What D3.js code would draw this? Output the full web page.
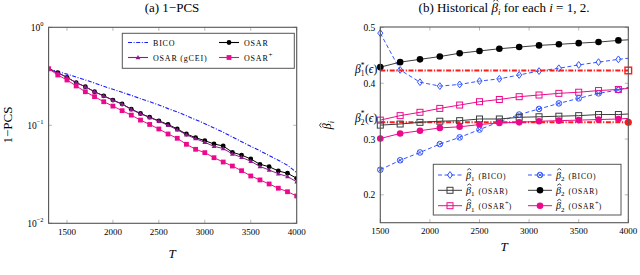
<!DOCTYPE html>
<html>
<head>
<meta charset="utf-8">
<script src="https://cdn.jsdelivr.net/npm/d3@7"></script>
<style>
  body { margin: 0; background: #fff; }
  text { font-family: "Liberation Serif", "DejaVu Serif", serif; }
</style>
</head>
<body>
<svg id="chart" width="640" height="275"></svg>
<script>
// ---- left panel data: 1-PCS (log scale) ----
const tLeft = [1300, 1400, 1500, 1600, 1700, 1800, 1900, 2000, 2100, 2200, 2300, 2400, 2500, 2600,
    2700, 2800, 2900, 3000, 3100, 3200, 3300, 3400, 3500, 3600, 3700, 3800, 3900, 4000];
const pcsBico = [0.375, 0.353, 0.333, 0.31, 0.29, 0.27, 0.25, 0.233, 0.217, 0.202, 0.187, 0.174, 0.161, 0.148,
    0.137, 0.125, 0.114, 0.104, 0.094, 0.085, 0.076, 0.068, 0.061, 0.055, 0.049, 0.044, 0.039, 0.033];
const pcsOsar = [0.375, 0.344, 0.309, 0.272, 0.248, 0.22, 0.2, 0.181, 0.165, 0.146, 0.132, 0.121, 0.111, 0.102,
    0.0917, 0.0815, 0.0748, 0.0697, 0.0645, 0.0615, 0.053, 0.0497, 0.0453, 0.040, 0.0378, 0.0342, 0.0324, 0.0288];
const pcsGcei = [0.375, 0.343, 0.308, 0.272, 0.247, 0.219, 0.199, 0.18, 0.164, 0.145, 0.131, 0.12, 0.11, 0.1,
    0.09, 0.08, 0.073, 0.067, 0.061, 0.058, 0.051, 0.047, 0.043, 0.038, 0.035, 0.032, 0.030, 0.0265];
const pcsOsarPlus = [0.378, 0.326, 0.29, 0.252, 0.22, 0.196, 0.174, 0.157, 0.141, 0.127, 0.113, 0.102, 0.0917, 0.0815,
    0.0737, 0.064, 0.0569, 0.0526, 0.0467, 0.0422, 0.0384, 0.0344, 0.0304, 0.0277, 0.0252, 0.0228, 0.021, 0.019];
const leftXTicks = [1500, 2000, 2500, 3000, 3500, 4000];
const leftYTicks = [1, 0.1, 0.01];
const leftYTickExp = ["0", "\u22121", "\u22122"];

// ---- right panel data: historical beta-hat ----
const tRight = [1500, 1700, 1900, 2100, 2300, 2500, 2700, 2900, 3100, 3300, 3500, 3700, 3900, 4000];
const b1Bico = [0.49, 0.424, 0.402, 0.395, 0.398, 0.404, 0.408, 0.415, 0.422, 0.427, 0.433, 0.438, 0.443, 0.445];
const b2Bico = [0.245, 0.262, 0.276, 0.291, 0.303, 0.317, 0.331, 0.344, 0.354, 0.364, 0.373, 0.382, 0.388, 0.393];
const b1Osar = [0.325, 0.327, 0.33, 0.332, 0.333, 0.336, 0.336, 0.339, 0.34, 0.341, 0.342, 0.344, 0.344, 0.345];
const b2Osar = [0.429, 0.438, 0.443, 0.448, 0.454, 0.458, 0.462, 0.465, 0.468, 0.47, 0.472, 0.474, 0.477, 0.478];
const b1OsarPlus = [0.334, 0.342, 0.348, 0.355, 0.361, 0.367, 0.371, 0.376, 0.379, 0.382, 0.384, 0.387, 0.389, 0.391];
const b2OsarPlus = [0.301, 0.31, 0.315, 0.32, 0.322, 0.326, 0.329, 0.33, 0.332, 0.333, 0.334, 0.335, 0.336, 0.337];
const beta1Star = 0.423;
const beta2Star = 0.33;
const rightXTicks = [1500, 2000, 2500, 3000, 3500, 4000];
const rightYTicks = [0.2, 0.3, 0.4, 0.5];

const BLUE = "#1a1aff";
const BLUE_LIGHT = "#3355ff";
const PURPLE = "#8b1a8b";
const PINK = "#ec0a8c";
const RED = "#ff1a1a";
const GRAY = "#3c3c3c";
const FRAME = "#555";

const svg = d3.select("#chart");

// markers
function drawMarker(g, kind, x, y, color, size) {
    if (kind === "circle") {
        g.append("circle").attr("cx", x).attr("cy", y).attr("r", size).attr("fill", color);
    } else if (kind === "square") {
        g.append("rect").attr("x", x - size).attr("y", y - size)
            .attr("width", size * 2).attr("height", size * 2).attr("fill", color);
    } else if (kind === "squareOpen") {
        g.append("rect").attr("x", x - size).attr("y", y - size)
            .attr("width", size * 2).attr("height", size * 2)
            .attr("fill", "none").attr("stroke", color).attr("stroke-width", 1);
    } else if (kind === "triangle") {
        g.append("path").attr("d", `M${x},${y - size}L${x + size},${y + size * 0.7}L${x - size},${y + size * 0.7}Z`)
            .attr("fill", color);
    } else if (kind === "diamond") {
        g.append("path").attr("d", `M${x},${y - size}L${x + size * 0.75},${y}L${x},${y + size}L${x - size * 0.75},${y}Z`)
            .attr("fill", "none").attr("stroke", color).attr("stroke-width", 1);
    } else if (kind === "otimes") {
        const d = size * 0.7;
        g.append("circle").attr("cx", x).attr("cy", y).attr("r", size)
            .attr("fill", "none").attr("stroke", color).attr("stroke-width", 1);
        g.append("path").attr("d", `M${x - d},${y - d}L${x + d},${y + d}M${x - d},${y + d}L${x + d},${y - d}`)
            .attr("stroke", color).attr("stroke-width", 0.9);
    }
}

// put a small hat over character #idx of a text element
function hatOver(textSel, idx, fs) {
    const node = textSel.node();
    const box = node.getExtentOfChar(idx);
    const parent = d3.select(node.parentNode);
    const tf = textSel.attr("transform");
    const baseline = box.y + box.height * 0.805;
    const cx = box.x + box.width / 2 + fs * 0.08;
    const top = baseline - fs * 0.98;
    const w = fs * 0.2;
    parent.append("path")
        .attr("transform", tf || null)
        .attr("d", `M${cx - w},${top + fs * 0.15}L${cx},${top}L${cx + w},${top + fs * 0.15}`)
        .attr("fill", "none").attr("stroke", "#000").attr("stroke-width", 0.75);
}

function drawSeries(g, xs, ys, x, y, opts) {
    const line = d3.line().x((d, i) => x(xs[i])).y(d => y(d));
    g.append("path").datum(ys)
        .attr("d", line)
        .attr("fill", "none")
        .attr("stroke", opts.color)
        .attr("stroke-width", opts.width || 1)
        .attr("stroke-dasharray", opts.dash || null);
    if (opts.marker) {
        const mg = g.append("g");
        ys.forEach((v, i) => {
            if (opts.skip && opts.skip(i)) return;
            drawMarker(mg, opts.marker, x(xs[i]), y(v), opts.markerColor || opts.color, opts.size);
        });
    }
}

function frame(g, x0, x1, y0, y1) {
    g.append("rect").attr("x", x0).attr("y", y0).attr("width", x1 - x0).attr("height", y1 - y0)
        .attr("fill", "none").attr("stroke", FRAME).attr("stroke-width", 1.1);
}

// =============== LEFT PANEL ===============
const L = { x0: 48.6, x1: 296.7, y0: 27.3, y1: 223.3 };
const xL = d3.scaleLinear().domain([1300, 4000]).range([L.x0, L.x1]);
const yL = d3.scaleLog().domain([0.01, 1]).range([L.y1, L.y0]);

const gl = svg.append("g");
svg.append("clipPath").attr("id", "clipL").append("rect")
    .attr("x", L.x0).attr("y", L.y0).attr("width", L.x1 - L.x0).attr("height", L.y1 - L.y0);

// ticks (inside, bottom and top)
leftXTicks.forEach(t => {
    gl.append("line").attr("x1", xL(t)).attr("x2", xL(t)).attr("y1", L.y1).attr("y2", L.y1 - 3.5)
        .attr("stroke", "#999").attr("stroke-width", 0.7);
    gl.append("line").attr("x1", xL(t)).attr("x2", xL(t)).attr("y1", L.y0).attr("y2", L.y0 + 3.5)
        .attr("stroke", "#999").attr("stroke-width", 0.7);
    gl.append("text").attr("x", xL(t)).attr("y", L.y1 + 11.5).attr("text-anchor", "middle")
        .attr("font-size", 9).text(t);
});
leftYTicks.forEach((t, i) => {
    gl.append("line").attr("x1", L.x0).attr("x2", L.x0 + 3.5).attr("y1", yL(t)).attr("y2", yL(t))
        .attr("stroke", "#999").attr("stroke-width", 0.7);
    gl.append("line").attr("x1", L.x1).attr("x2", L.x1 - 3.5).attr("y1", yL(t)).attr("y2", yL(t))
        .attr("stroke", "#999").attr("stroke-width", 0.7);
    const tx = gl.append("text").attr("x", L.x0 - 5).attr("y", yL(t) + 3.5).attr("text-anchor", "end")
        .attr("font-size", 9.5);
    tx.append("tspan").text("10");
    tx.append("tspan").attr("dy", -4.5).attr("font-size", 6.5).text(leftYTickExp[i]);
});

const plotL = gl.append("g").attr("clip-path", "url(#clipL)");
drawSeries(plotL, tLeft, pcsBico, xL, yL, { color: BLUE, dash: "4,1.6,1,1.6", width: 1.1 });
drawSeries(plotL, tLeft, pcsOsar, xL, yL, { color: "#000", marker: "circle", size: 2.4 });
drawSeries(plotL, tLeft, pcsGcei, xL, yL, { color: PURPLE, marker: "triangle", size: 2.4 });
drawSeries(plotL, tLeft, pcsOsarPlus, xL, yL, { color: PINK, marker: "square", size: 2.4 });
frame(gl, L.x0, L.x1, L.y0, L.y1);

// left legend
const lg = gl.append("g");
lg.append("rect").attr("x", 122.3).attr("y", 33.3).attr("width", 172).attr("height", 35)
    .attr("fill", "#fff").attr("stroke", FRAME).attr("stroke-width", 1);
const leftLegend = [
    { label: "BICO", color: BLUE, dash: "4,1.6,1,1.6", marker: null, col: 0, row: 0 },
    { label: "OSAR", color: "#000", marker: "circle", col: 1, row: 0 },
    { label: "OSAR (gCEI)", color: PURPLE, marker: "triangle", col: 0, row: 1 },
    { label: "OSAR", sup: "+", color: PINK, marker: "square", col: 1, row: 1 }
];
leftLegend.forEach(e => {
    const lx = e.col === 0 ? 128 : 219;
    const ly = e.row === 0 ? 42.5 : 57.5;
    lg.append("line").attr("x1", lx).attr("x2", lx + 20).attr("y1", ly).attr("y2", ly)
        .attr("stroke", e.color).attr("stroke-width", 1.1).attr("stroke-dasharray", e.dash || null);
    if (e.marker) drawMarker(lg, e.marker, lx + 10, ly, e.color, 2.4);
    const tx = lg.append("text").attr("x", lx + 25).attr("y", ly + 3).attr("font-size", 8)
        .attr("letter-spacing", 0.8).text(e.label);
    if (e.sup) tx.append("tspan").attr("dy", -4).attr("font-size", 7).text(e.sup);
});

// left titles
svg.append("text").attr("x", 172).attr("y", 12).attr("text-anchor", "middle").attr("font-size", 13)
    .text("(a) 1\u2212PCS");
svg.append("text").attr("x", 172).attr("y", 258).attr("text-anchor", "middle").attr("font-size", 13)
    .attr("font-style", "italic").text("T");
svg.append("text").attr("transform", "translate(12,125) rotate(-90)").attr("text-anchor", "middle")
    .attr("font-size", 13).text("1\u2212PCS");

// =============== RIGHT PANEL ===============
const R = { x0: 380.3, x1: 628.3, y0: 27, y1: 222.7 };
const xR = d3.scaleLinear().domain([1500, 4000]).range([R.x0, R.x1]);
const yR = d3.scaleLinear().domain([0.15, 0.501]).range([R.y1, R.y0]);

const gr = svg.append("g");
svg.append("clipPath").attr("id", "clipR").append("rect")
    .attr("x", R.x0 - 8).attr("y", R.y0).attr("width", R.x1 - R.x0 + 16).attr("height", R.y1 - R.y0);

rightXTicks.forEach(t => {
    gr.append("line").attr("x1", xR(t)).attr("x2", xR(t)).attr("y1", R.y1).attr("y2", R.y1 - 3.5)
        .attr("stroke", "#999").attr("stroke-width", 0.7);
    gr.append("line").attr("x1", xR(t)).attr("x2", xR(t)).attr("y1", R.y0).attr("y2", R.y0 + 3.5)
        .attr("stroke", "#999").attr("stroke-width", 0.7);
    gr.append("text").attr("x", xR(t)).attr("y", R.y1 + 11.5).attr("text-anchor", "middle")
        .attr("font-size", 9).text(t);
});
rightYTicks.forEach(t => {
    gr.append("line").attr("x1", R.x0).attr("x2", R.x0 + 3.5).attr("y1", yR(t)).attr("y2", yR(t))
        .attr("stroke", "#999").attr("stroke-width", 0.7);
    gr.append("line").attr("x1", R.x1).attr("x2", R.x1 - 3.5).attr("y1", yR(t)).attr("y2", yR(t))
        .attr("stroke", "#999").attr("stroke-width", 0.7);
    gr.append("text").attr("x", R.x0 - 5).attr("y", yR(t) + 3.5).attr("text-anchor", "end")
        .attr("font-size", 9.5).text(d3.format(".1f")(t));
});

const plotR = gr.append("g").attr("clip-path", "url(#clipR)");
const lastR = i => i === tRight.length - 1;
drawSeries(plotR, tRight, b1Bico, xR, yR, { color: BLUE_LIGHT, dash: "4,2.5", marker: "diamond", size: 3.4, skip: lastR });
drawSeries(plotR, tRight, b2Bico, xR, yR, { color: BLUE_LIGHT, dash: "4,2.5", marker: "otimes", size: 2.8, skip: lastR });
drawSeries(plotR, tRight, b2Osar, xR, yR, { color: GRAY, marker: "circle", size: 3.3, markerColor: "#000", skip: lastR });
drawSeries(plotR, [1500, 4000], [beta1Star, beta1Star], xR, yR, { color: RED, dash: "5,1.6,1.2,1.6", width: 2 });
drawSeries(plotR, [1500, 4000], [beta2Star, beta2Star], xR, yR, { color: RED, dash: "5,1.6,1.2,1.6", width: 2 });
drawSeries(plotR, tRight, b1Osar, xR, yR, { color: GRAY, marker: "squareOpen", size: 3, skip: lastR });
drawSeries(plotR, tRight, b1OsarPlus, xR, yR, { color: PINK, marker: "squareOpen", size: 3, skip: lastR });
drawSeries(plotR, tRight, b2OsarPlus, xR, yR, { color: PINK, marker: "circle", size: 3.3, skip: lastR });
// end markers on the beta* lines
const starMarks = plotR.append("g");
drawMarker(starMarks, "squareOpen", xR(4000), yR(beta1Star), RED, 3.3);
starMarks.select("rect").attr("stroke-width", 1.4);
drawMarker(starMarks, "circle", xR(4000), yR(beta2Star), RED, 3.6);
frame(gr, R.x0, R.x1, R.y0, R.y1);

// beta* labels at the left of the axis
function betaStar(sel, x, y, idx) {
    const tx = sel.append("text").attr("x", x).attr("y", y).attr("text-anchor", "end").attr("font-size", 11.5);
    tx.append("tspan").attr("font-style", "italic").text("\u03b2");
    tx.append("tspan").attr("dy", 3).attr("font-size", 7.5).text(idx);
    tx.append("tspan").attr("dy", -8.5).attr("dx", -3.8).attr("font-size", 7.5).text("*");
    tx.append("tspan").attr("dy", 5.5).attr("dx", 0.5).text("(");
    tx.append("tspan").attr("font-style", "italic").text("\u03f5");
    tx.append("tspan").text(")");
}
betaStar(gr, R.x0 - 3, yR(beta1Star) + 3, "1");
betaStar(gr, R.x0 - 3, yR(beta2Star) - 0.5, "2");

// right legend
const rg = gr.append("g");
rg.append("rect").attr("x", 433.3).attr("y", 164.3).attr("width", 187.7).attr("height", 50.7)
    .attr("fill", "#fff").attr("stroke", FRAME).attr("stroke-width", 1);
const rightLegend = [
    { idx: "1", label: "(BICO)", color: BLUE_LIGHT, dash: "4,2.5", marker: "diamond", size: 3.4, col: 0, row: 0 },
    { idx: "2", label: "(BICO)", color: BLUE_LIGHT, dash: "4,2.5", marker: "otimes", size: 2.8, col: 1, row: 0 },
    { idx: "1", label: "(OSAR)", color: GRAY, marker: "squareOpen", size: 3, col: 0, row: 1 },
    { idx: "2", label: "(OSAR)", color: GRAY, markerColor: "#000", marker: "circle", size: 3.3, col: 1, row: 1 },
    { idx: "1", label: "(OSAR", sup: "+", color: PINK, marker: "squareOpen", size: 3, col: 0, row: 2 },
    { idx: "2", label: "(OSAR", sup: "+", color: PINK, marker: "circle", size: 3.3, col: 1, row: 2 }
];
rightLegend.forEach(e => {
    const lx = e.col === 0 ? 438 : 528;
    const ly = [175, 190.3, 205.7][e.row];
    rg.append("line").attr("x1", lx).attr("x2", lx + 24).attr("y1", ly).attr("y2", ly)
        .attr("stroke", e.color).attr("stroke-width", 1).attr("stroke-dasharray", e.dash || null);
    drawMarker(rg, e.marker, lx + 12, ly, e.markerColor || e.color, e.size);
    const tx = rg.append("text").attr("x", lx + 28).attr("y", ly + 3.5).attr("font-size", 10);
    tx.append("tspan").attr("font-style", "italic").text("\u03b2");
    tx.append("tspan").attr("dy", 2.5).attr("font-size", 7).text(e.idx);
    tx.append("tspan").attr("dy", -2.5).attr("dx", 4).attr("font-size", 7.5).attr("letter-spacing", 0.8)
        .text(e.label);
    if (e.sup) {
        tx.append("tspan").attr("dy", -4).attr("font-size", 6.5).text(e.sup);
        tx.append("tspan").attr("dy", 4).attr("font-size", 7.5).text(")");
    }
    hatOver(tx, 0, 10);
});

// right titles
const titleR = svg.append("text").attr("x", 504).attr("y", 12).attr("text-anchor", "middle").attr("font-size", 13);
titleR.append("tspan").text("(b) Historical ");
titleR.append("tspan").attr("font-style", "italic").text("\u03b2");
titleR.append("tspan").attr("dy", 2.5).attr("font-size", 9).attr("font-style", "italic").text("i");
titleR.append("tspan").attr("dy", -2.5).text(" for each ");
titleR.append("tspan").attr("font-style", "italic").text("i");
titleR.append("tspan").text(" = 1, 2.");
hatOver(titleR, "(b) Historical ".length, 13);
svg.append("text").attr("x", 504).attr("y", 251).attr("text-anchor", "middle").attr("font-size", 13)
    .attr("font-style", "italic").text("T");
const ylabR = svg.append("text").attr("transform", "translate(331,125) rotate(-90)").attr("text-anchor", "middle")
    .attr("font-size", 12);
ylabR.append("tspan").attr("font-style", "italic").text("\u03b2");
ylabR.append("tspan").attr("dy", 2.5).attr("font-size", 8.5).attr("font-style", "italic").text("i");
hatOver(ylabR, 0, 12);
</script>
</body>
</html>
